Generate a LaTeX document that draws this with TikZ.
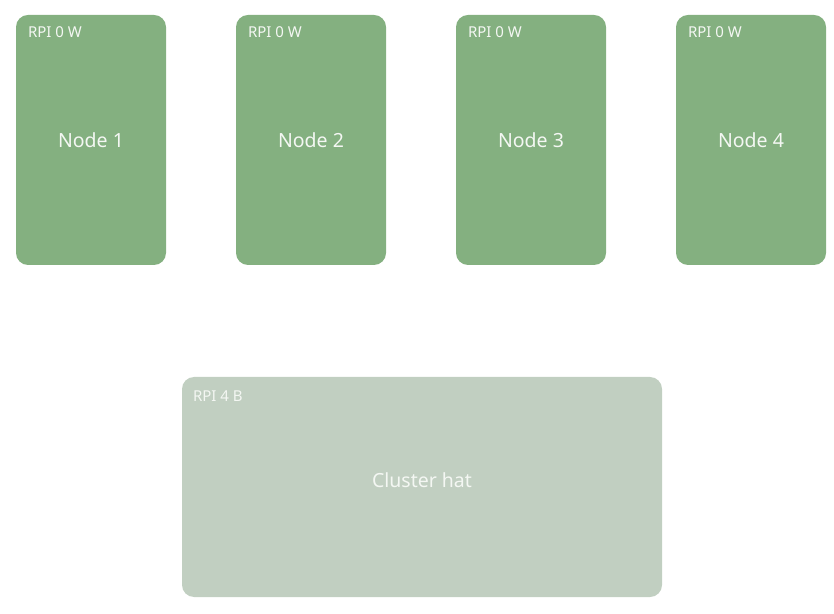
\documentclass[tikz,border=0pt]{standalone}
\usepackage{fontspec}
\setmainfont{Noto Sans}
\usepackage{xcolor}
\usetikzlibrary{positioning}
\definecolor{zerogreen}{HTML}{84B080}
\definecolor{hatgreen}{HTML}{C1CFC1}
\definecolor{tagwhite}{HTML}{F4F7F3}
\tikzset{
  board/.style={rounded corners=12pt,inner sep=0pt,text=tagwhite},
  zero/.style={board,fill=zerogreen,minimum width=150pt,minimum height=250pt,font=\fontsize{19.5}{22}\selectfont},
  hat/.style={board,fill=hatgreen,minimum width=480pt,minimum height=220pt},
  tag/.style={anchor=base west,inner sep=0pt,text=tagwhite,font=\fontsize{15}{17}\selectfont}
}
\begin{document}
\begin{tikzpicture}[x=1pt,y=1pt]
\useasboundingbox (0,0) rectangle (834,613);
\foreach \i in {1,...,4}{
  \node[zero] (node\i) at ({91+220*(\i-1)},473) {Node \i};
  \node[tag] (node\i-tag) at ([xshift=12pt,yshift=-23pt]node\i.north west) {RPI 0 W};
}
\node[hat] (hat) at (422,126) {};
\node[text=tagwhite,font=\fontsize{19.5}{22}\selectfont] (hat-text) at ([yshift=7pt]hat.center) {Cluster hat};
\node[tag] (hat-tag) at ([xshift=11pt,yshift=-25pt]hat.north west) {RPI 4 B};
\end{tikzpicture}
\end{document}
